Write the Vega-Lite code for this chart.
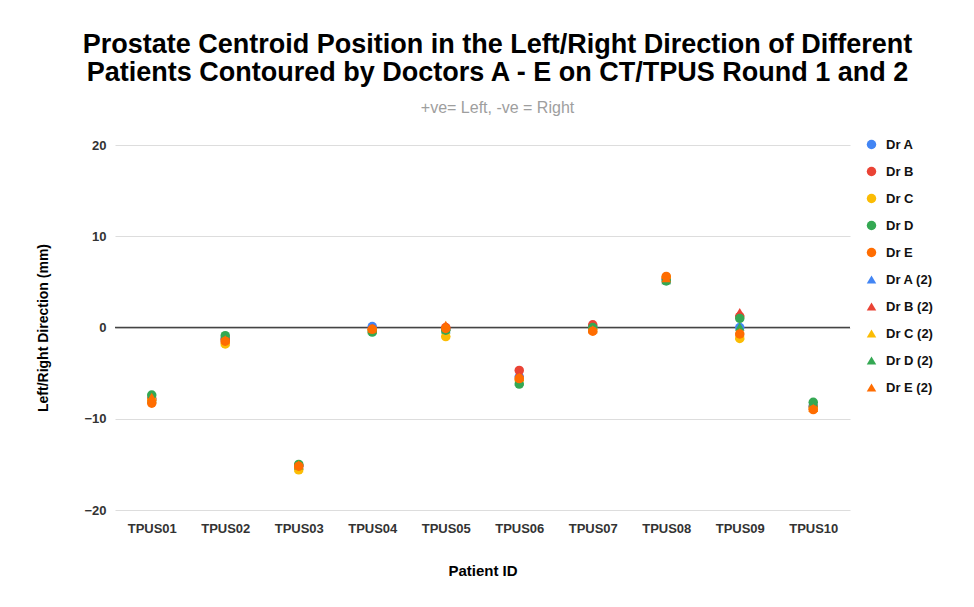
{
  "$schema": "https://vega.github.io/schema/vega-lite/v6.json",
  "width": 735,
  "height": 365,
  "autosize": {"type": "none"},
  "padding": {"left": 115, "top": 145, "right": 124, "bottom": 97},
  "background": "white",
  "config": {
    "font": "Liberation Sans",
    "view": {"stroke": null}
  },
  "title": {
    "text": ["Prostate Centroid Position in the Left/Right Direction of Different", "Patients Contoured by Doctors A - E on CT/TPUS Round 1 and 2"],
    "subtitle": "+ve= Left, -ve = Right",
    "font": "Liberation Sans",
    "fontSize": 27,
    "fontWeight": "bold",
    "color": "#000000",
    "lineHeight": 28,
    "subtitleFont": "Liberation Sans",
    "subtitleFontSize": 16,
    "subtitleColor": "#9e9e9e",
    "subtitlePadding": 13,
    "anchor": "middle",
    "frame": "group",
    "dx": 15,
    "offset": 21
  },
  "datasets": {
    "pts": [
      {"patient": "TPUS01", "series": "Dr A", "value": -7.9},
      {"patient": "TPUS01", "series": "Dr B", "value": -7.8},
      {"patient": "TPUS01", "series": "Dr C", "value": -8.0},
      {"patient": "TPUS01", "series": "Dr D", "value": -7.4},
      {"patient": "TPUS01", "series": "Dr E", "value": -8.3},
      {"patient": "TPUS01", "series": "Dr A (2)", "value": -7.7},
      {"patient": "TPUS01", "series": "Dr B (2)", "value": -7.6},
      {"patient": "TPUS01", "series": "Dr C (2)", "value": -7.8},
      {"patient": "TPUS01", "series": "Dr D (2)", "value": -7.8},
      {"patient": "TPUS01", "series": "Dr E (2)", "value": -7.6},
      {"patient": "TPUS02", "series": "Dr A", "value": -1.2},
      {"patient": "TPUS02", "series": "Dr B", "value": -1.3},
      {"patient": "TPUS02", "series": "Dr C", "value": -1.8},
      {"patient": "TPUS02", "series": "Dr D", "value": -0.9},
      {"patient": "TPUS02", "series": "Dr E", "value": -1.5},
      {"patient": "TPUS02", "series": "Dr A (2)", "value": -1.1},
      {"patient": "TPUS02", "series": "Dr B (2)", "value": -1.2},
      {"patient": "TPUS02", "series": "Dr C (2)", "value": -1.6},
      {"patient": "TPUS02", "series": "Dr D (2)", "value": -1.0},
      {"patient": "TPUS02", "series": "Dr E (2)", "value": -1.3},
      {"patient": "TPUS03", "series": "Dr A", "value": -15.2},
      {"patient": "TPUS03", "series": "Dr B", "value": -15.1},
      {"patient": "TPUS03", "series": "Dr C", "value": -15.6},
      {"patient": "TPUS03", "series": "Dr D", "value": -15.0},
      {"patient": "TPUS03", "series": "Dr E", "value": -15.2},
      {"patient": "TPUS03", "series": "Dr A (2)", "value": -15.1},
      {"patient": "TPUS03", "series": "Dr B (2)", "value": -15.0},
      {"patient": "TPUS03", "series": "Dr C (2)", "value": -15.4},
      {"patient": "TPUS03", "series": "Dr D (2)", "value": -15.1},
      {"patient": "TPUS03", "series": "Dr E (2)", "value": -15.0},
      {"patient": "TPUS04", "series": "Dr A", "value": 0.1},
      {"patient": "TPUS04", "series": "Dr B", "value": -0.2},
      {"patient": "TPUS04", "series": "Dr C", "value": -0.3},
      {"patient": "TPUS04", "series": "Dr D", "value": -0.5},
      {"patient": "TPUS04", "series": "Dr E", "value": -0.2},
      {"patient": "TPUS04", "series": "Dr A (2)", "value": 0.0},
      {"patient": "TPUS04", "series": "Dr B (2)", "value": -0.1},
      {"patient": "TPUS04", "series": "Dr C (2)", "value": -0.2},
      {"patient": "TPUS04", "series": "Dr D (2)", "value": -0.3},
      {"patient": "TPUS04", "series": "Dr E (2)", "value": -0.1},
      {"patient": "TPUS05", "series": "Dr A", "value": -0.2},
      {"patient": "TPUS05", "series": "Dr B", "value": 0.0},
      {"patient": "TPUS05", "series": "Dr C", "value": -1.0},
      {"patient": "TPUS05", "series": "Dr D", "value": -0.3},
      {"patient": "TPUS05", "series": "Dr E", "value": -0.1},
      {"patient": "TPUS05", "series": "Dr A (2)", "value": -0.1},
      {"patient": "TPUS05", "series": "Dr B (2)", "value": 0.1},
      {"patient": "TPUS05", "series": "Dr C (2)", "value": -0.6},
      {"patient": "TPUS05", "series": "Dr D (2)", "value": -0.2},
      {"patient": "TPUS05", "series": "Dr E (2)", "value": 0.3},
      {"patient": "TPUS06", "series": "Dr A", "value": -5.4},
      {"patient": "TPUS06", "series": "Dr B", "value": -4.7},
      {"patient": "TPUS06", "series": "Dr C", "value": -5.7},
      {"patient": "TPUS06", "series": "Dr D", "value": -6.2},
      {"patient": "TPUS06", "series": "Dr E", "value": -5.6},
      {"patient": "TPUS06", "series": "Dr A (2)", "value": -5.3},
      {"patient": "TPUS06", "series": "Dr B (2)", "value": -5.0},
      {"patient": "TPUS06", "series": "Dr C (2)", "value": -5.5},
      {"patient": "TPUS06", "series": "Dr D (2)", "value": -5.9},
      {"patient": "TPUS06", "series": "Dr E (2)", "value": -5.4},
      {"patient": "TPUS07", "series": "Dr A", "value": 0.1},
      {"patient": "TPUS07", "series": "Dr B", "value": 0.3},
      {"patient": "TPUS07", "series": "Dr C", "value": -0.2},
      {"patient": "TPUS07", "series": "Dr D", "value": 0.0},
      {"patient": "TPUS07", "series": "Dr E", "value": -0.4},
      {"patient": "TPUS07", "series": "Dr A (2)", "value": 0.0},
      {"patient": "TPUS07", "series": "Dr B (2)", "value": 0.2},
      {"patient": "TPUS07", "series": "Dr C (2)", "value": -0.1},
      {"patient": "TPUS07", "series": "Dr D (2)", "value": -0.1},
      {"patient": "TPUS07", "series": "Dr E (2)", "value": -0.2},
      {"patient": "TPUS08", "series": "Dr A", "value": 5.3},
      {"patient": "TPUS08", "series": "Dr B", "value": 5.4},
      {"patient": "TPUS08", "series": "Dr C", "value": 5.5},
      {"patient": "TPUS08", "series": "Dr D", "value": 5.1},
      {"patient": "TPUS08", "series": "Dr E", "value": 5.6},
      {"patient": "TPUS08", "series": "Dr A (2)", "value": 5.3},
      {"patient": "TPUS08", "series": "Dr B (2)", "value": 5.4},
      {"patient": "TPUS08", "series": "Dr C (2)", "value": 5.5},
      {"patient": "TPUS08", "series": "Dr D (2)", "value": 5.2},
      {"patient": "TPUS08", "series": "Dr E (2)", "value": 5.4},
      {"patient": "TPUS09", "series": "Dr A", "value": 0.0},
      {"patient": "TPUS09", "series": "Dr B", "value": 1.2},
      {"patient": "TPUS09", "series": "Dr C", "value": -1.2},
      {"patient": "TPUS09", "series": "Dr D", "value": 1.0},
      {"patient": "TPUS09", "series": "Dr E", "value": -0.7},
      {"patient": "TPUS09", "series": "Dr A (2)", "value": -0.3},
      {"patient": "TPUS09", "series": "Dr B (2)", "value": 1.7},
      {"patient": "TPUS09", "series": "Dr C (2)", "value": -0.9},
      {"patient": "TPUS09", "series": "Dr D (2)", "value": 0.1},
      {"patient": "TPUS09", "series": "Dr E (2)", "value": -0.5},
      {"patient": "TPUS10", "series": "Dr A", "value": -8.6},
      {"patient": "TPUS10", "series": "Dr B", "value": -8.7},
      {"patient": "TPUS10", "series": "Dr C", "value": -8.9},
      {"patient": "TPUS10", "series": "Dr D", "value": -8.2},
      {"patient": "TPUS10", "series": "Dr E", "value": -9.0},
      {"patient": "TPUS10", "series": "Dr A (2)", "value": -8.5},
      {"patient": "TPUS10", "series": "Dr B (2)", "value": -8.6},
      {"patient": "TPUS10", "series": "Dr C (2)", "value": -8.8},
      {"patient": "TPUS10", "series": "Dr D (2)", "value": -8.3},
      {"patient": "TPUS10", "series": "Dr E (2)", "value": -8.8}
    ]
  },
  "layer": [
    {
      "data": {"values": [{"z": 0}]},
      "mark": {"type": "rule", "color": "#444444", "strokeWidth": 1.5},
      "encoding": {
        "y": {"field": "z", "type": "quantitative", "scale": {"domain": [-20, 20]}}
      }
    },
    {
      "data": {"name": "pts"},
      "mark": {"type": "point", "filled": true, "opacity": 1},
      "encoding": {
        "x": {
          "field": "patient",
          "type": "nominal",
          "scale": {"paddingInner": 0, "paddingOuter": 0},
          "axis": {
            "title": "Patient ID",
            "titleFontSize": 15,
            "titleFontWeight": "bold",
            "titleColor": "#000",
            "titlePadding": 28,
            "labelAngle": 0,
            "labelFontSize": 13,
            "labelFontWeight": "bold",
            "labelColor": "#333",
            "labelPadding": 12,
            "ticks": false,
            "domain": false,
            "grid": false
          }
        },
        "y": {
          "field": "value",
          "type": "quantitative",
          "scale": {"domain": [-20, 20], "nice": false},
          "axis": {
            "title": "Left/Right Direction (mm)",
            "titleFontSize": 14,
            "titleFontWeight": "bold",
            "titleColor": "#000",
            "titlePadding": 33,
            "values": [-20, -10, 0, 10, 20],
            "labelFontSize": 13,
            "labelFontWeight": "bold",
            "labelColor": "#333",
            "labelPadding": 9,
            "ticks": false,
            "domain": false,
            "gridColor": "#dddddd"
          }
        },
        "color": {
          "field": "series",
          "type": "nominal",
          "sort": ["Dr A", "Dr B", "Dr C", "Dr D", "Dr E", "Dr A (2)", "Dr B (2)", "Dr C (2)", "Dr D (2)", "Dr E (2)"],
          "scale": {
            "domain": ["Dr A", "Dr B", "Dr C", "Dr D", "Dr E", "Dr A (2)", "Dr B (2)", "Dr C (2)", "Dr D (2)", "Dr E (2)"],
            "range": ["#4285F4", "#EA4335", "#FBBC04", "#34A853", "#FF6D01", "#4285F4", "#EA4335", "#FBBC04", "#34A853", "#FF6D01"]
          },
          "legend": {
            "title": null,
            "orient": "none",
            "legendX": 750,
            "legendY": -7,
            "labelFontSize": 13,
            "labelFontWeight": "bold",
            "labelColor": "#111",
            "rowPadding": 13,
            "symbolSize": 130,
            "labelOffset": 8
          }
        },
        "shape": {
          "field": "series",
          "type": "nominal",
          "scale": {
            "domain": ["Dr A", "Dr B", "Dr C", "Dr D", "Dr E", "Dr A (2)", "Dr B (2)", "Dr C (2)", "Dr D (2)", "Dr E (2)"],
            "range": ["circle", "circle", "circle", "circle", "circle", "triangle-up", "triangle-up", "triangle-up", "triangle-up", "triangle-up"]
          }
        },
        "size": {
          "field": "series",
          "type": "nominal",
          "scale": {
            "domain": ["Dr A", "Dr B", "Dr C", "Dr D", "Dr E", "Dr A (2)", "Dr B (2)", "Dr C (2)", "Dr D (2)", "Dr E (2)"],
            "range": [90, 90, 90, 90, 90, 70, 70, 70, 70, 70]
          }
        },
        "order": {"field": "series", "sort": "ascending"}
      }
    }
  ]
}
